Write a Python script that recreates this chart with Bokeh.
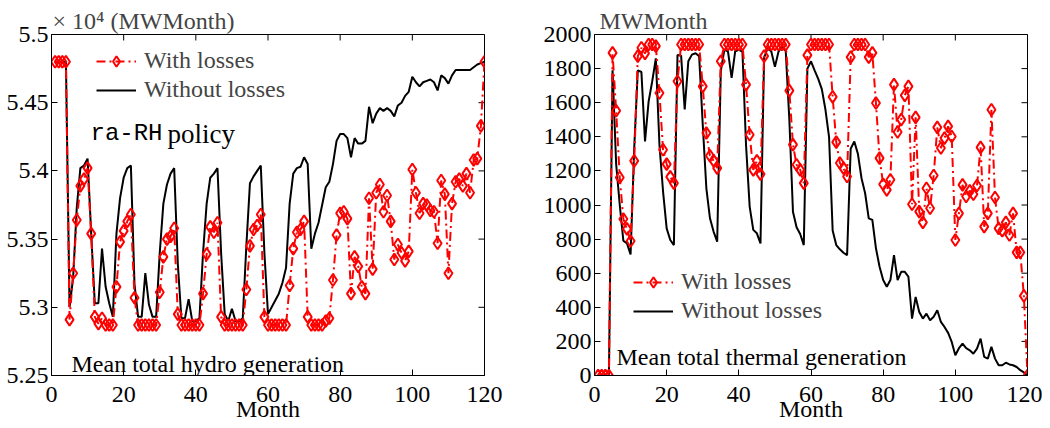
import math
from bokeh.plotting import figure
from bokeh.models import FixedTicker, Label, Legend, LegendItem, Range1d
from bokeh.layouts import row
from bokeh.embed import file_html
from bokeh.resources import INLINE

# ---------------- data ----------------
months = list(range(1, 121))

hydro_with = [
    5.48, 5.48, 5.48, 5.48, 5.291, 5.325, 5.364, 5.389, 5.394, 5.402,
    5.354, 5.293, 5.288, 5.292, 5.287, 5.287, 5.287, 5.315, 5.348, 5.356,
    5.363, 5.368, 5.307, 5.287, 5.287, 5.287, 5.287, 5.287, 5.287, 5.311,
    5.337, 5.350, 5.352, 5.358, 5.295, 5.287, 5.287, 5.287, 5.287, 5.287,
    5.287, 5.310, 5.339, 5.359, 5.355, 5.362, 5.293, 5.287, 5.287, 5.287,
    5.287, 5.287, 5.287, 5.313, 5.345, 5.357, 5.360, 5.368, 5.293, 5.287,
    5.287, 5.287, 5.287, 5.287, 5.287, 5.316, 5.343, 5.355, 5.357, 5.363,
    5.293, 5.287, 5.287, 5.287, 5.287, 5.290, 5.292, 5.320, 5.353, 5.369,
    5.370, 5.365, 5.310, 5.337, 5.330, 5.315, 5.310, 5.380, 5.328, 5.384,
    5.390, 5.370, 5.382, 5.363, 5.335, 5.346, 5.340, 5.334, 5.341, 5.401,
    5.384, 5.369, 5.376, 5.375, 5.371, 5.370, 5.347, 5.393, 5.383, 5.325,
    5.376, 5.392, 5.394, 5.389, 5.398, 5.384, 5.408, 5.409, 5.433, 5.480,
]

hydro_without = [
    5.48, 5.48, 5.48, 5.48, 5.300, 5.322, 5.373, 5.402, 5.404, 5.409,
    5.354, 5.303, 5.303, 5.343, 5.315, 5.303, 5.293, 5.354, 5.380, 5.395,
    5.402, 5.404, 5.317, 5.293, 5.293, 5.325, 5.302, 5.293, 5.293, 5.340,
    5.376, 5.390, 5.398, 5.402, 5.332, 5.292, 5.292, 5.306, 5.290, 5.290,
    5.292, 5.340, 5.376, 5.395, 5.398, 5.402, 5.340, 5.295, 5.290, 5.299,
    5.290, 5.290, 5.292, 5.345, 5.391, 5.396, 5.400, 5.404, 5.340, 5.295,
    5.300, 5.305, 5.310, 5.318, 5.329, 5.376, 5.398, 5.402, 5.403, 5.410,
    5.405, 5.343, 5.354, 5.362, 5.375, 5.388, 5.392, 5.405, 5.422, 5.427,
    5.427, 5.424, 5.410, 5.424, 5.420, 5.420, 5.422, 5.447, 5.435, 5.442,
    5.446, 5.444, 5.446, 5.444, 5.440, 5.448, 5.450, 5.455, 5.458, 5.469,
    5.465, 5.462, 5.465, 5.466, 5.467, 5.465, 5.459, 5.470, 5.468, 5.464,
    5.470, 5.474, 5.474, 5.474, 5.474, 5.474, 5.476, 5.478, 5.479, 5.480,
]

thermal_with = [
    0, 0, 0, 0, 1892, 1553, 1161, 918, 860, 789,
    1259, 1873, 1922, 1889, 1941, 1941, 1932, 1657, 1324, 1240,
    1165, 1128, 1726, 1941, 1941, 1941, 1941, 1941, 1941, 1696,
    1422, 1289, 1260, 1216, 1843, 1941, 1941, 1941, 1941, 1941,
    1941, 1706, 1412, 1206, 1259, 1181, 1873, 1941, 1941, 1941,
    1941, 1941, 1941, 1671, 1354, 1236, 1206, 1128, 1879, 1941,
    1941, 1941, 1941, 1941, 1941, 1634, 1369, 1246, 1216, 1167,
    1867, 1941, 1941, 1941, 1941, 1867, 1892, 1598, 1275, 1122,
    1089, 1148, 1706, 1428, 1501, 1643, 1696, 1004, 1514, 961,
    898, 1098, 981, 1173, 1455, 1334, 1392, 1461, 1402, 795,
    951, 1118, 1050, 1083, 1063, 1114, 1338, 873, 951, 1559,
    1044, 863, 850, 898, 824, 951, 722, 722, 467, 0,
]

thermal_without = [
    0, 0, 0, 0, 1790, 1240, 1000, 790, 775, 710,
    1330, 1790, 1780, 1373, 1608, 1726, 1860, 1353, 1079, 863,
    795, 765, 1880, 1876, 1560, 1843, 1882, 1890, 1873, 1471,
    1098, 922, 844, 785, 1785, 1912, 1900, 1745, 1902, 1910,
    1900, 1350, 991, 854, 834, 775, 1863, 1922, 1900, 1810,
    1900, 1930, 1902, 1500, 960, 870, 830, 765, 1800, 1843,
    1790, 1740, 1680, 1560, 1400, 850, 765, 740, 720, 706,
    1330, 1373, 1300, 1157, 1069, 922, 913, 746, 638, 560,
    520, 560, 706, 560, 608, 608, 579, 334, 461, 373,
    334, 363, 324, 344, 383, 314, 285, 250, 197, 119,
    160, 187, 160, 148, 128, 158, 216, 109, 99, 168,
    99, 60, 60, 75, 65, 60, 50, 31, 18, 0,
]

x_ticks = [0, 20, 40, 60, 80, 100, 120]
hydro_ticks = [5.25, 5.3, 5.35, 5.4, 5.45, 5.5]
hydro_tick_labels = ["5.25", "5.3", "5.35", "5.4", "5.45", "5.5"]
thermal_ticks = [0, 200, 400, 600, 800, 1000, 1200, 1400, 1600, 1800, 2000]
thermal_tick_labels = [str(t) for t in thermal_ticks]

series_labels = ["With losses", "Without losses"]
hydro_unit = "\u00d7 10\u2074 (MWMonth)"
thermal_unit = "MWMonth"

SERIF = "Liberation Serif"
MONO = "Liberation Mono"
RED = "#ff0000"
FS = "24px"
H = 428


def make_fig(width, bl, br, ylo, yhi, yticks, ylabels, unit, unit_offset):
    p = figure(width=width, height=H, output_backend="svg", toolbar_location=None,
               x_range=Range1d(0, 120), y_range=Range1d(ylo, yhi),
               min_border_left=bl, min_border_right=br, min_border_top=34, min_border_bottom=53,
               background_fill_color="white", border_fill_color="white",
               title=unit)
    p.title.text_font = SERIF
    p.title.text_font_size = FS
    p.title.text_font_style = "normal"
    p.title.align = "left"
    p.title.offset = unit_offset
    p.title.standoff = 2
    p.grid.visible = False
    p.outline_line_color = "black"
    p.outline_line_width = 1
    for ax in (p.xaxis[0], p.yaxis[0]):
        ax.axis_line_color = "black"
        ax.major_tick_in = 6
        ax.major_tick_out = 0
        ax.minor_tick_line_color = None
        ax.major_label_text_font = SERIF
        ax.major_label_text_font_size = FS
        ax.major_label_text_color = "black"
    xa = p.xaxis[0]
    xa.ticker = FixedTicker(ticks=x_ticks)
    xa.major_label_standoff = 11
    xa.axis_label = "Month"
    xa.axis_label_text_font = SERIF
    xa.axis_label_text_font_size = FS
    xa.axis_label_text_font_style = "normal"
    xa.axis_label_text_color = "black"
    xa.axis_label_standoff = -9
    p.yaxis[0].ticker = FixedTicker(ticks=yticks)
    p.yaxis[0].major_label_overrides = {t: l for t, l in zip(yticks, ylabels)}
    p.yaxis[0].major_label_standoff = 3
    # mirrored inward ticks on the top and right edges of the box
    p.ray(x=x_ticks, y=[yhi] * len(x_ticks), length=6, angle=-math.pi / 2,
          length_units="screen", line_color="black", line_width=1)
    p.ray(x=[120] * len(yticks), y=yticks, length=6, angle=math.pi,
          length_units="screen", line_color="black", line_width=1)
    return p


def add_series(p, with_vals, without_vals, loc):
    black = p.line(months, without_vals, line_color="black", line_width=2)
    red_line = p.line(months, with_vals, line_color=RED, line_width=2, line_dash="9 4 2 4")
    red_pts = p.scatter(months, with_vals, marker="diamond", size=12, line_color=RED,
                        line_width=2, fill_color=None)
    legend = Legend(items=[LegendItem(label=series_labels[0], renderers=[red_line, red_pts]),
                           LegendItem(label=series_labels[1], renderers=[black])],
                    location=loc, glyph_width=40, glyph_height=26, label_height=26,
                    spacing=2, padding=0, margin=0, label_standoff=8,
                    label_text_font=SERIF, label_text_font_size=FS,
                    background_fill_alpha=0, border_line_alpha=0)
    p.add_layout(legend, "center")


def txt(p, s, x, y, font=SERIF, size=FS, baseline="middle"):
    p.add_layout(Label(x=x, y=y, x_units="screen", y_units="screen", text=s,
                       text_font=font, text_font_size=size, text_color="black",
                       text_baseline=baseline, text_align="left"))


# ---------------- left: hydro ----------------
p1 = make_fig(540, 51, 56, 5.25, 5.5, hydro_ticks, hydro_tick_labels, hydro_unit, 1)
add_series(p1, hydro_with, hydro_without, (45, 272))
txt(p1, "ra-RH", 39, 242, font=MONO)
txt(p1, "policy", 116, 242, size="27px")
txt(p1, "Mean total hydro generation", 20, 12, baseline="alphabetic")

# ---------------- right: thermal ----------------
p2 = make_fig(502, 53, 15, 0, 2000, thermal_ticks, thermal_tick_labels, thermal_unit, 5)
add_series(p2, thermal_with, thermal_without, (39, 51))
txt(p2, "Mean total thermal generation", 22, 19, baseline="alphabetic")

layout = row(p1, p2)
open("out.html", "w").write(file_html(layout, INLINE))
